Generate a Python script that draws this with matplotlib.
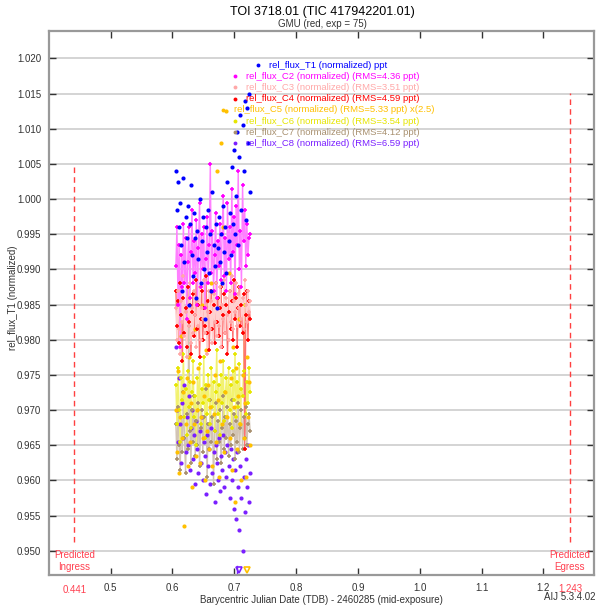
import numpy as np
import matplotlib
matplotlib.use("Agg")
import matplotlib.pyplot as plt

plt.rcParams['font.family'] = ['Liberation Sans', 'DejaVu Sans']

# mid-exposure times (BJD_TDB - 2460285)
times = [0.6055, 0.6072, 0.6090, 0.6107, 0.6125, 0.6142, 0.6159, 0.6177, 0.6194, 0.6212,
         0.6229, 0.6246, 0.6264, 0.6281, 0.6299, 0.6316, 0.6333, 0.6351, 0.6368, 0.6386,
         0.6403, 0.6420, 0.6438, 0.6455, 0.6473, 0.6490, 0.6507, 0.6525, 0.6542, 0.6560,
         0.6577, 0.6594, 0.6612, 0.6629, 0.6647, 0.6664, 0.6681, 0.6699, 0.6716, 0.6734,
         0.6751, 0.6768, 0.6786, 0.6803, 0.6821, 0.6838, 0.6855, 0.6873, 0.6890, 0.6908,
         0.6925, 0.6942, 0.6960, 0.6977, 0.6995, 0.7012, 0.7029, 0.7047, 0.7064, 0.7082,
         0.7099, 0.7116, 0.7134, 0.7151, 0.7169, 0.7186, 0.7203, 0.7221, 0.7238, 0.7256]

flux_T1 = [1.0040, 0.9985, 1.0025, 0.9960, 0.9995, 0.9935, 0.9870, 1.0030, 0.9910, 0.9975,
           0.9945, 0.9990, 0.9850, 0.9965, 1.0020, 0.9920, 0.9890, 0.9980, 0.9945, 0.9860,
           0.9955, 0.9915, 1.0000, 0.9880, 0.9940, 0.9975, 0.9900, 0.9830, 0.9960, 0.9925,
           0.9985, 0.9895, 0.9950, 0.9870, 1.0010, 0.9935, 0.9905, 0.9965, 0.9845, 0.9930,
           0.9975, 0.9910, 0.9950, 0.9880, 0.9990, 0.9925, 0.9960, 0.9895, 1.0025, 0.9940,
           0.9980, 0.9920, 1.0045, 0.9965, 1.0070, 0.9950, 1.0005, 1.0095, 0.9935, 1.0060,
           1.0120, 0.9985, 1.0105, 1.0040, 1.0140, 0.9970, 1.0130, 1.0080, 1.0150, 1.0010]

flux_C2 = [0.9905, 0.9960, 0.9850, 0.9935, 0.9790, 0.9920, 0.9875, 0.9965, 0.9880, 0.9945,
           0.9830, 0.9910, 0.9960, 0.9860, 0.9925, 0.9985, 0.9880, 0.9940, 0.9895, 0.9970,
           0.9850, 0.9930, 0.9995, 0.9875, 0.9950, 0.9900, 0.9960, 0.9845, 0.9915, 0.9975,
           0.9880, 0.9935, 1.0050, 0.9895, 0.9955, 0.9870, 0.9920, 0.9980, 0.9860, 0.9940,
           0.9905, 0.9965, 0.9885, 0.9950, 1.0005, 0.9890, 0.9945, 0.9870, 0.9995, 0.9915,
           0.9960, 0.9880, 1.0015, 0.9925, 0.9975, 0.9865, 0.9990, 0.9935, 1.0040, 0.9900,
           0.9955, 0.9875, 1.0020, 0.9940, 0.9985, 0.9905, 0.9965, 0.9920, 0.9945, 0.9950]

flux_C3 = [0.9845, 0.9800, 0.9870, 0.9815, 0.9780, 0.9855, 0.9825, 0.9890, 0.9805, 0.9840,
           0.9775, 0.9860, 0.9820, 0.9880, 0.9795, 0.9845, 0.9810, 0.9870, 0.9835, 0.9790,
           0.9855, 0.9820, 0.9875, 0.9800, 0.9845, 0.9830, 0.9885, 0.9810, 0.9850, 0.9780,
           0.9840, 0.9870, 0.9815, 0.9855, 0.9795, 0.9865, 0.9825, 0.9880, 0.9805, 0.9845,
           0.9820, 0.9875, 0.9790, 0.9850, 0.9830, 0.9885, 0.9810, 0.9860, 0.9835, 0.9800,
           0.9870, 0.9825, 0.9890, 0.9815, 0.9855, 0.9840, 0.9880, 0.9820, 0.9865, 0.9845,
           0.9875, 0.9830, 0.9860, 0.9815, 0.9885, 0.9850, 0.9825, 0.9870, 0.9840, 0.9855]

flux_C4 = [0.9870, 0.9820, 0.9855, 0.9795, 0.9880, 0.9835, 0.9770, 0.9860, 0.9810, 0.9845,
           0.9790, 0.9875, 0.9825, 0.9850, 0.9780, 0.9840, 0.9865, 0.9805, 0.9835, 0.9885,
           0.9815, 0.9850, 0.9775, 0.9830, 0.9870, 0.9800, 0.9845, 0.9820, 0.9890, 0.9810,
           0.9855, 0.9785, 0.9840, 0.9870, 0.9815, 0.9850, 0.9795, 0.9880, 0.9825, 0.9860,
           0.9805, 0.9845, 0.9875, 0.9790, 0.9835, 0.9865, 0.9810, 0.9850, 0.9780, 0.9840,
           0.9870, 0.9815, 0.9855, 0.9800, 0.9885, 0.9830, 0.9860, 0.9790, 0.9845, 0.9875,
           0.9820, 0.9850, 0.9810, 0.9865, 0.9645, 0.9835, 0.9870, 0.9800, 0.9855, 0.9830]

flux_C5 = [0.9700, 0.9640, 0.9755, 0.9610, 0.9690, 0.9805, 0.9660, 0.9725, 0.9535, 0.9680,
           0.9745, 0.9620, 0.9775, 0.9655, 0.9710, 0.9590, 0.9740, 0.9680, 0.9815, 0.9635,
           0.9700, 0.9760, 0.9625, 0.9690, 0.9850, 0.9660, 0.9720, 0.9600, 0.9785, 0.9670,
           0.9735, 0.9645, 0.9705, 0.9880, 0.9620, 0.9695, 0.9750, 0.9655, 1.0040, 0.9715,
           0.9605, 0.9770, 1.0080, 0.9680, 0.9960, 0.9640, 0.9725, 1.0125, 0.9690, 0.9895,
           0.9660, 0.9745, 0.9615, 0.9790, 0.9705, 0.9570, 0.9760, 0.9645, 0.9720, 0.9830,
           0.9680, 0.9600, 0.9750, 0.9660, 0.9710, 0.9605, 0.9775, 0.9690, 0.9740, 0.9650]

flux_C6 = [0.9735, 0.9680, 0.9760, 0.9700, 0.9655, 0.9745, 0.9715, 0.9780, 0.9690, 0.9730,
           0.9665, 0.9755, 0.9705, 0.9740, 0.9675, 0.9725, 0.9770, 0.9690, 0.9720, 0.9650,
           0.9745, 0.9700, 0.9765, 0.9680, 0.9730, 0.9710, 0.9775, 0.9660, 0.9735, 0.9695,
           0.9750, 0.9715, 0.9680, 0.9760, 0.9705, 0.9740, 0.9670, 0.9725, 0.9785, 0.9695,
           0.9735, 0.9665, 0.9750, 0.9710, 0.9770, 0.9685, 0.9725, 0.9745, 0.9690, 0.9760,
           0.9700, 0.9735, 0.9675, 0.9755, 0.9715, 0.9780, 0.9690, 0.9740, 0.9705, 0.9765,
           0.9680, 0.9730, 0.9720, 0.9755, 0.9850, 0.9695, 0.9740, 0.9710, 0.9760, 0.9725]

flux_C7 = [0.9680, 0.9630, 0.9705, 0.9650, 0.9615, 0.9690, 0.9640, 0.9725, 0.9660, 0.9610,
           0.9695, 0.9645, 0.9820, 0.9670, 0.9625, 0.9700, 0.9655, 0.9720, 0.9635, 0.9685,
           0.9650, 0.9710, 0.9620, 0.9675, 0.9700, 0.9640, 0.9690, 0.9660, 0.9730, 0.9605,
           0.9680, 0.9645, 0.9715, 0.9655, 0.9690, 0.9595, 0.9670, 0.9710, 0.9630, 0.9685,
           0.9655, 0.9700, 0.9625, 0.9675, 0.9720, 0.9645, 0.9690, 0.9660, 0.9705, 0.9635,
           0.9680, 0.9650, 0.9715, 0.9665, 0.9695, 0.9630, 0.9685, 0.9655, 0.9710, 0.9640,
           0.9675, 0.9700, 0.9645, 0.9690, 0.9660, 0.9705, 0.9650, 0.9680, 0.9695, 0.9670]

flux_C8 = [0.9790, 0.9700, 0.9655, 0.9745, 0.9680, 0.9625, 0.9710, 0.9660, 0.9735, 0.9640,
           0.9690, 0.9650, 0.9720, 0.9615, 0.9675, 0.9700, 0.9630, 0.9665, 0.9595, 0.9685,
           0.9645, 0.9610, 0.9670, 0.9625, 0.9690, 0.9600, 0.9655, 0.9635, 0.9580, 0.9665,
           0.9620, 0.9645, 0.9595, 0.9675, 0.9610, 0.9640, 0.9570, 0.9650, 0.9625, 0.9600,
           0.9660, 0.9585, 0.9635, 0.9615, 0.9665, 0.9590, 0.9640, 0.9605, 0.9650, 0.9620,
           0.9575, 0.9645, 0.9600, 0.9630, 0.9560, 0.9615, 0.9545, 0.9640, 0.9590, 0.9530,
           0.9620, 0.9575, 0.9500, 0.9605, 0.9555, 0.9630, 0.9590, 0.9650, 0.9570, 0.9610]

legend_labels = ["rel_flux_T1 (normalized) ppt",
                 "rel_flux_C2 (normalized) (RMS=4.36 ppt)",
                 "rel_flux_C3 (normalized) (RMS=3.51 ppt)",
                 "rel_flux_C4 (normalized) (RMS=4.59 ppt)",
                 "rel_flux_C5 (normalized) (RMS=5.33 ppt) x(2.5)",
                 "rel_flux_C6 (normalized) (RMS=3.54 ppt)",
                 "rel_flux_C7 (normalized) (RMS=4.12 ppt)",
                 "rel_flux_C8 (normalized) (RMS=6.59 ppt)"]

ingress, egress = 0.441, 1.243

# (series, marker color, line color or None)
series = [
    (flux_C8, '#7a1fff', None),
    (flux_C7, '#a8906f', '#d2c4b4'),
    (flux_C6, '#e6e600', '#f2f270'),
    (flux_C5, '#ffc000', None),
    (flux_C4, '#ff0000', '#ff7070'),
    (flux_C3, '#ffa8a8', '#ffd0d0'),
    (flux_C2, '#ff00ff', '#ff80ff'),
    (flux_T1, '#0000ff', None),
]
legend_colors = ['#0000ff', '#ff00ff', '#ffa8a8', '#ff0000', '#ffc000', '#e6e600', '#a8906f', '#7a1fff']

W, H = 597, 605
fig = plt.figure(figsize=(W / 100, H / 100), dpi=100)
ax = fig.add_axes([49.3 / W, 30 / H, (594 - 49.3) / W, (575 - 31) / H])

t = np.array(times)
for vals, mc, lc in series:
    if lc is not None:
        ax.plot(t, vals, '-', color=lc, lw=1.0, zorder=2)
        ax.plot(t, vals, '+', color=mc, ms=3.5, mew=1.2, zorder=3)
    else:
        ax.plot(t, vals, 'o', color=mc, ms=3.0, mew=0, zorder=3)

ax.set_xlim(0.4007, 1.282)
ax.set_ylim(0.94655, 1.0239)
ax.set_yticks(np.arange(0.950, 1.0201, 0.005))
ax.set_xticks(np.arange(0.5, 1.21, 0.1))
ax.yaxis.set_major_formatter(plt.FormatStrFormatter('%.3f'))
ax.xaxis.set_major_formatter(plt.FormatStrFormatter('%.1f'))
ax.grid(axis='y', color='#d4d4d4', lw=1.4, zorder=0)
ax.set_axisbelow(True)
ax.tick_params(direction='in', top=True, right=True, length=5, width=1,
               labelsize=7, colors='#333333', pad=6)
for s in ax.spines.values():
    s.set_color('#999999')
    s.set_linewidth(1.6)

# predicted ingress / egress
ax.plot([ingress, ingress], [0.9513, 1.0045], '--', color='#ff4040', lw=1, dashes=(4, 3))
ax.plot([egress, egress], [0.9513, 1.0151], '--', color='#ff4040', lw=1, dashes=(4, 3))
ax.text(ingress, 0.9485, "Predicted\nIngress", color='#ff4050', fontsize=7,
        ha='center', va='center', linespacing=1.3)
ax.text(egress, 0.9485, "Predicted\nEgress", color='#ff4050', fontsize=7,
        ha='center', va='center', linespacing=1.3)
ax.text(ingress, -0.028, f"{ingress:.3f}", transform=ax.get_xaxis_transform(),
        color='#ff4050', fontsize=7, ha='center', va='center')
ax.text(egress, -0.026, f"{egress:.3f}", transform=ax.get_xaxis_transform(),
        color='#ff4050', fontsize=7, ha='center', va='center')

# markers at bottom axis
ax.plot([0.708], [0.9473], 'v', mfc='white', mec='#7a1fff', ms=5, mew=1.2, clip_on=False)
ax.plot([0.720], [0.9473], 'v', mfc='white', mec='#ffc000', ms=5, mew=1.2, clip_on=False)
ax.plot([0.7045, 0.7045], [0.94655, 0.9478], color='#7a1fff', lw=1)

ax.set_xlabel("Barycentric Julian Date (TDB) - 2460285 (mid-exposure)", fontsize=7,
              color='#333333', labelpad=1)
ax.set_ylabel("rel_flux_T1 (normalized)", fontsize=7, color='#333333')
ax.yaxis.set_label_coords(-0.057, 0.51)

fig.text(322 / W, 1 - 12 / H, "TOI 3718.01 (TIC 417942201.01)", fontsize=9,
         ha='center', va='center')
fig.text(322 / W, 1 - 24 / H, "GMU (red, exp = 75)", fontsize=7, ha='center',
         va='center', color='#333333')
fig.text(570 / W, 1 - 597 / H, "AIJ 5.3.4.02", fontsize=7, ha='center', va='center',
         color='#333333')

# legend
text_x = [269, 246, 246, 246, 234, 246, 246, 246]
for i, (lab, col) in enumerate(zip(legend_labels, legend_colors)):
    y = 65 + i * 11.2
    fig.text(text_x[i] / W, 1 - y / H, lab, fontsize=6.8, color=col, ha='left', va='center')
    fig.lines.append(plt.Line2D([(text_x[i] - 11) / W], [1 - y / H], marker='o', ms=2.8,
                                mew=0, color=col, transform=fig.transFigure))

fig.savefig("out.png", dpi=100)
